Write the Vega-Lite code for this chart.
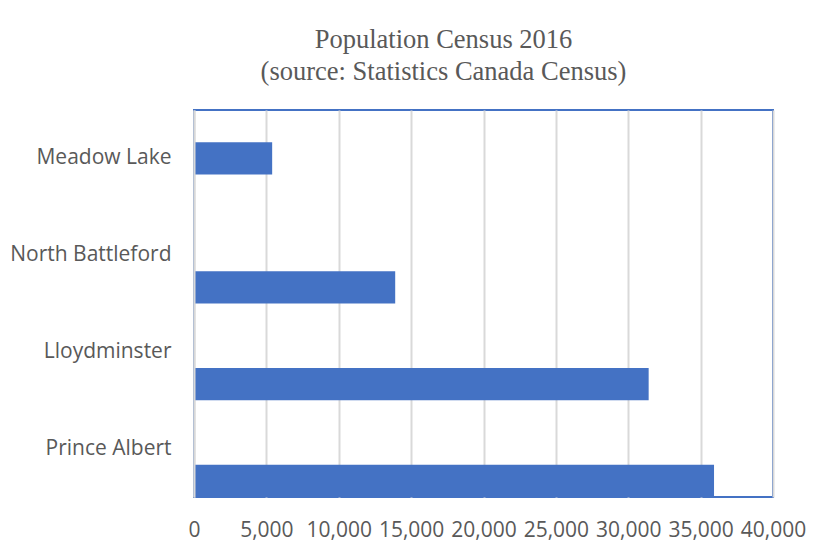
{
  "$schema": "https://vega.github.io/schema/vega-lite/v6.json",
  "width": 579,
  "height": 387,
  "autosize": {"type": "none"},
  "padding": {"left": 194, "top": 110, "right": 40, "bottom": 45},
  "background": "white",
  "title": {
    "text": ["Population Census 2016", "(source: Statistics Canada Census)"],
    "font": "Liberation Serif",
    "fontSize": 26.5,
    "fontWeight": "normal",
    "color": "#595959",
    "anchor": "middle",
    "dx": -40,
    "offset": 25,
    "lineHeight": 32
  },
  "config": {
    "view": {"stroke": "#4472C4", "strokeWidth": 2},
    "axis": {"labelFont": "Open Sans", "labelColor": "#595959", "labelFontSize": 21}
  },
  "data": {
    "values": [
      {"city": "Meadow Lake", "population": 5400, "slot": "b"},
      {"city": "North Battleford", "population": 13900, "slot": "c"},
      {"city": "Lloydminster", "population": 31410, "slot": "c"},
      {"city": "Prince Albert", "population": 35926, "slot": "c"}
    ]
  },
  "mark": {"type": "bar", "color": "#4472C4"},
  "encoding": {
    "y": {
      "field": "city",
      "type": "nominal",
      "sort": ["Meadow Lake", "North Battleford", "Lloydminster", "Prince Albert"],
      "scale": {"paddingInner": 0, "paddingOuter": 0},
      "axis": {"title": null, "ticks": false, "domain": true, "domainColor": "#D9D9D9", "domainWidth": 2, "labelPadding": 23, "zindex": 1}
    },
    "yOffset": {
      "field": "slot",
      "type": "nominal",
      "scale": {"domain": ["a", "b", "c"], "paddingInner": 0, "paddingOuter": 0}
    },
    "x": {
      "field": "population",
      "type": "quantitative",
      "scale": {"domain": [0, 40000], "nice": false},
      "axis": {
        "title": null,
        "values": [0, 5000, 10000, 15000, 20000, 25000, 30000, 35000, 40000],
        "format": ",d",
        "grid": true,
        "gridColor": "#D9D9D9",
        "gridWidth": 2,
        "ticks": false,
        "domain": false,
        "labelPadding": 22,
        "labelFlush": false
      }
    }
  }
}
